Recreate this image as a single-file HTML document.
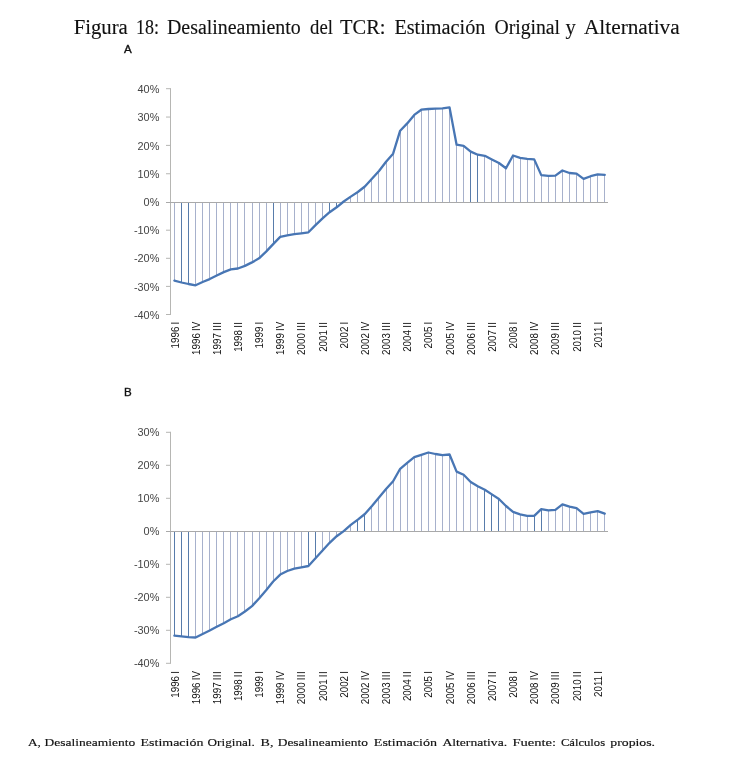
<!DOCTYPE html>
<html lang="es"><head><meta charset="utf-8"><title>Figura 18</title>
<style>
html,body{margin:0;padding:0;background:#fff;}
svg{display:block;will-change:transform}
.ax{font-family:"Liberation Sans","DejaVu Sans",sans-serif;font-size:10.6px;fill:#454545}
.cat{font-family:"Liberation Sans","DejaVu Sans",sans-serif;font-size:9.8px;fill:#111;word-spacing:-0.5px}
.lab{font-family:"Liberation Sans","DejaVu Sans",sans-serif;font-size:11.6px;fill:#111;stroke:#111;stroke-width:0.35px}
.title{font-family:"Liberation Serif","DejaVu Serif",serif;font-size:20px;fill:#111;stroke:#111;stroke-width:0.12px}
.cap{font-family:"Liberation Serif","DejaVu Serif",serif;font-size:11px;fill:#111;stroke:#111;stroke-width:0.15px}
</style></head><body>
<svg width="735" height="773" viewBox="0 0 735 773">
<rect width="735" height="773" fill="#fff"/>
<text class="title" y="34.0"><tspan x="73.7" textLength="54.1" lengthAdjust="spacingAndGlyphs">Figura</tspan> <tspan x="136.0" textLength="23.0" lengthAdjust="spacingAndGlyphs">18:</tspan> <tspan x="167" textLength="133.7" lengthAdjust="spacingAndGlyphs">Desalineamiento</tspan> <tspan x="310.1" textLength="22.8" lengthAdjust="spacingAndGlyphs">del</tspan> <tspan x="340.0" textLength="45.5" lengthAdjust="spacingAndGlyphs">TCR:</tspan> <tspan x="394.4" textLength="91.0" lengthAdjust="spacingAndGlyphs">Estimación</tspan> <tspan x="494.4" textLength="65.7" lengthAdjust="spacingAndGlyphs">Original</tspan> <tspan x="565.4" textLength="10.3" lengthAdjust="spacingAndGlyphs">y</tspan> <tspan x="584.0" textLength="95.7" lengthAdjust="spacingAndGlyphs">Alternativa</tspan></text>
<text class="lab" x="124" y="52.7">A</text>
<g id="chartA">
<line x1="174.5" y1="202.50" x2="174.5" y2="280.60" stroke="#a7b1cc" stroke-width="1"/>
<line x1="181.5" y1="202.50" x2="181.5" y2="282.50" stroke="#587cab" stroke-width="1"/>
<line x1="188.5" y1="202.50" x2="188.5" y2="284.00" stroke="#587cab" stroke-width="1"/>
<line x1="195.5" y1="202.50" x2="195.5" y2="285.30" stroke="#a7b1cc" stroke-width="1"/>
<line x1="202.5" y1="202.50" x2="202.5" y2="282.00" stroke="#a7b1cc" stroke-width="1"/>
<line x1="209.5" y1="202.50" x2="209.5" y2="279.10" stroke="#a7b1cc" stroke-width="1"/>
<line x1="216.5" y1="202.50" x2="216.5" y2="275.50" stroke="#a7b1cc" stroke-width="1"/>
<line x1="223.5" y1="202.50" x2="223.5" y2="272.10" stroke="#a7b1cc" stroke-width="1"/>
<line x1="230.5" y1="202.50" x2="230.5" y2="269.40" stroke="#a7b1cc" stroke-width="1"/>
<line x1="237.5" y1="202.50" x2="237.5" y2="268.50" stroke="#a7b1cc" stroke-width="1"/>
<line x1="244.5" y1="202.50" x2="244.5" y2="265.90" stroke="#a7b1cc" stroke-width="1"/>
<line x1="252.5" y1="202.50" x2="252.5" y2="262.40" stroke="#a7b1cc" stroke-width="1"/>
<line x1="259.5" y1="202.50" x2="259.5" y2="258.30" stroke="#a7b1cc" stroke-width="1"/>
<line x1="266.5" y1="202.50" x2="266.5" y2="251.60" stroke="#a7b1cc" stroke-width="1"/>
<line x1="273.5" y1="202.50" x2="273.5" y2="244.10" stroke="#587cab" stroke-width="1"/>
<line x1="280.5" y1="202.50" x2="280.5" y2="236.90" stroke="#a7b1cc" stroke-width="1"/>
<line x1="287.5" y1="202.50" x2="287.5" y2="235.30" stroke="#a7b1cc" stroke-width="1"/>
<line x1="294.5" y1="202.50" x2="294.5" y2="234.20" stroke="#a7b1cc" stroke-width="1"/>
<line x1="301.5" y1="202.50" x2="301.5" y2="233.30" stroke="#a7b1cc" stroke-width="1"/>
<line x1="308.5" y1="202.50" x2="308.5" y2="232.30" stroke="#a7b1cc" stroke-width="1"/>
<line x1="315.5" y1="202.50" x2="315.5" y2="225.10" stroke="#a7b1cc" stroke-width="1"/>
<line x1="322.5" y1="202.50" x2="322.5" y2="218.30" stroke="#a7b1cc" stroke-width="1"/>
<line x1="329.5" y1="202.50" x2="329.5" y2="212.20" stroke="#587cab" stroke-width="1"/>
<line x1="336.5" y1="202.50" x2="336.5" y2="207.30" stroke="#587cab" stroke-width="1"/>
<line x1="343.5" y1="202.50" x2="343.5" y2="201.50" stroke="#a7b1cc" stroke-width="1"/>
<line x1="350.5" y1="202.50" x2="350.5" y2="196.60" stroke="#a7b1cc" stroke-width="1"/>
<line x1="357.5" y1="202.50" x2="357.5" y2="192.00" stroke="#a7b1cc" stroke-width="1"/>
<line x1="364.5" y1="202.50" x2="364.5" y2="186.50" stroke="#a7b1cc" stroke-width="1"/>
<line x1="371.5" y1="202.50" x2="371.5" y2="178.80" stroke="#a7b1cc" stroke-width="1"/>
<line x1="378.5" y1="202.50" x2="378.5" y2="171.00" stroke="#a7b1cc" stroke-width="1"/>
<line x1="386.5" y1="202.50" x2="386.5" y2="161.70" stroke="#a7b1cc" stroke-width="1"/>
<line x1="393.5" y1="202.50" x2="393.5" y2="153.70" stroke="#a7b1cc" stroke-width="1"/>
<line x1="400.5" y1="202.50" x2="400.5" y2="130.70" stroke="#a7b1cc" stroke-width="1"/>
<line x1="407.5" y1="202.50" x2="407.5" y2="123.40" stroke="#a7b1cc" stroke-width="1"/>
<line x1="414.5" y1="202.50" x2="414.5" y2="114.90" stroke="#a7b1cc" stroke-width="1"/>
<line x1="421.5" y1="202.50" x2="421.5" y2="109.70" stroke="#a7b1cc" stroke-width="1"/>
<line x1="428.5" y1="202.50" x2="428.5" y2="109.00" stroke="#a7b1cc" stroke-width="1"/>
<line x1="435.5" y1="202.50" x2="435.5" y2="108.60" stroke="#a7b1cc" stroke-width="1"/>
<line x1="442.5" y1="202.50" x2="442.5" y2="108.40" stroke="#a7b1cc" stroke-width="1"/>
<line x1="449.5" y1="202.50" x2="449.5" y2="107.40" stroke="#a7b1cc" stroke-width="1"/>
<line x1="456.5" y1="202.50" x2="456.5" y2="144.70" stroke="#a7b1cc" stroke-width="1"/>
<line x1="463.5" y1="202.50" x2="463.5" y2="145.90" stroke="#a7b1cc" stroke-width="1"/>
<line x1="470.5" y1="202.50" x2="470.5" y2="151.60" stroke="#587cab" stroke-width="1"/>
<line x1="477.5" y1="202.50" x2="477.5" y2="154.70" stroke="#587cab" stroke-width="1"/>
<line x1="484.5" y1="202.50" x2="484.5" y2="155.80" stroke="#a7b1cc" stroke-width="1"/>
<line x1="491.5" y1="202.50" x2="491.5" y2="159.40" stroke="#a7b1cc" stroke-width="1"/>
<line x1="498.5" y1="202.50" x2="498.5" y2="163.00" stroke="#a7b1cc" stroke-width="1"/>
<line x1="505.5" y1="202.50" x2="505.5" y2="168.20" stroke="#a7b1cc" stroke-width="1"/>
<line x1="513.5" y1="202.50" x2="513.5" y2="155.50" stroke="#a7b1cc" stroke-width="1"/>
<line x1="520.5" y1="202.50" x2="520.5" y2="157.80" stroke="#a7b1cc" stroke-width="1"/>
<line x1="527.5" y1="202.50" x2="527.5" y2="158.90" stroke="#a7b1cc" stroke-width="1"/>
<line x1="534.5" y1="202.50" x2="534.5" y2="159.40" stroke="#a7b1cc" stroke-width="1"/>
<line x1="541.5" y1="202.50" x2="541.5" y2="175.10" stroke="#a7b1cc" stroke-width="1"/>
<line x1="548.5" y1="202.50" x2="548.5" y2="175.90" stroke="#a7b1cc" stroke-width="1"/>
<line x1="555.5" y1="202.50" x2="555.5" y2="175.60" stroke="#a7b1cc" stroke-width="1"/>
<line x1="562.5" y1="202.50" x2="562.5" y2="170.50" stroke="#a7b1cc" stroke-width="1"/>
<line x1="569.5" y1="202.50" x2="569.5" y2="173.00" stroke="#a7b1cc" stroke-width="1"/>
<line x1="576.5" y1="202.50" x2="576.5" y2="173.60" stroke="#a7b1cc" stroke-width="1"/>
<line x1="583.5" y1="202.50" x2="583.5" y2="178.90" stroke="#a7b1cc" stroke-width="1"/>
<line x1="590.5" y1="202.50" x2="590.5" y2="176.20" stroke="#a7b1cc" stroke-width="1"/>
<line x1="597.5" y1="202.50" x2="597.5" y2="174.40" stroke="#a7b1cc" stroke-width="1"/>
<line x1="604.5" y1="202.50" x2="604.5" y2="174.90" stroke="#a7b1cc" stroke-width="1"/>
<line x1="170.5" y1="88.20" x2="170.5" y2="315.00" stroke="#b6b6b3" stroke-width="1"/>
<line x1="166.00" y1="202.50" x2="608" y2="202.50" stroke="#a9a9a9" stroke-width="1"/>
<line x1="166.00" y1="88.70" x2="170.5" y2="88.70" stroke="#b6b6b3" stroke-width="1"/>
<text x="137.55" y="92.80" textLength="21.85" lengthAdjust="spacingAndGlyphs" class="ax">40%</text>
<line x1="166.00" y1="117.05" x2="170.5" y2="117.05" stroke="#b6b6b3" stroke-width="1"/>
<text x="137.55" y="121.15" textLength="21.85" lengthAdjust="spacingAndGlyphs" class="ax">30%</text>
<line x1="166.00" y1="145.40" x2="170.5" y2="145.40" stroke="#b6b6b3" stroke-width="1"/>
<text x="137.55" y="149.50" textLength="21.85" lengthAdjust="spacingAndGlyphs" class="ax">20%</text>
<line x1="166.00" y1="173.75" x2="170.5" y2="173.75" stroke="#b6b6b3" stroke-width="1"/>
<text x="137.55" y="177.85" textLength="21.85" lengthAdjust="spacingAndGlyphs" class="ax">10%</text>
<text x="143.62" y="206.20" textLength="15.78" lengthAdjust="spacingAndGlyphs" class="ax">0%</text>
<line x1="166.00" y1="230.20" x2="170.5" y2="230.20" stroke="#b6b6b3" stroke-width="1"/>
<text x="133.92" y="234.30" textLength="25.48" lengthAdjust="spacingAndGlyphs" class="ax">-10%</text>
<line x1="166.00" y1="258.30" x2="170.5" y2="258.30" stroke="#b6b6b3" stroke-width="1"/>
<text x="133.92" y="262.40" textLength="25.48" lengthAdjust="spacingAndGlyphs" class="ax">-20%</text>
<line x1="166.00" y1="286.40" x2="170.5" y2="286.40" stroke="#b6b6b3" stroke-width="1"/>
<text x="133.92" y="290.50" textLength="25.48" lengthAdjust="spacingAndGlyphs" class="ax">-30%</text>
<line x1="166.00" y1="314.50" x2="170.5" y2="314.50" stroke="#b6b6b3" stroke-width="1"/>
<text x="133.92" y="318.60" textLength="25.48" lengthAdjust="spacingAndGlyphs" class="ax">-40%</text>
<polyline points="174.40,280.60 181.46,282.50 188.51,284.00 195.56,285.30 202.62,282.00 209.68,279.10 216.73,275.50 223.78,272.10 230.84,269.40 237.90,268.50 244.95,265.90 252.00,262.40 259.06,258.30 266.12,251.60 273.17,244.10 280.23,236.90 287.28,235.30 294.34,234.20 301.39,233.30 308.44,232.30 315.50,225.10 322.56,218.30 329.61,212.20 336.66,207.30 343.72,201.50 350.77,196.60 357.83,192.00 364.88,186.50 371.94,178.80 379.00,171.00 386.05,161.70 393.11,153.70 400.16,130.70 407.22,123.40 414.27,114.90 421.32,109.70 428.38,109.00 435.43,108.60 442.49,108.40 449.54,107.40 456.60,144.70 463.65,145.90 470.71,151.60 477.76,154.70 484.82,155.80 491.88,159.40 498.93,163.00 505.99,168.20 513.04,155.50 520.10,157.80 527.15,158.90 534.21,159.40 541.26,175.10 548.31,175.90 555.37,175.60 562.42,170.50 569.48,173.00 576.53,173.60 583.59,178.90 590.64,176.20 597.70,174.40 604.75,174.90" fill="none" stroke="#4876b4" stroke-width="2.3" stroke-linejoin="round" stroke-linecap="round"/>
<text transform="translate(178.50,321.7) rotate(-90) scale(1,1.07)" text-anchor="end" class="cat">1996 I</text>
<text transform="translate(199.66,321.7) rotate(-90) scale(1,1.07)" text-anchor="end" class="cat">1996 IV</text>
<text transform="translate(220.83,321.7) rotate(-90) scale(1,1.07)" text-anchor="end" class="cat">1997 <tspan letter-spacing="0.35">III</tspan></text>
<text transform="translate(242.00,321.7) rotate(-90) scale(1,1.07)" text-anchor="end" class="cat">1998 <tspan letter-spacing="0.35">II</tspan></text>
<text transform="translate(263.16,321.7) rotate(-90) scale(1,1.07)" text-anchor="end" class="cat">1999 I</text>
<text transform="translate(284.33,321.7) rotate(-90) scale(1,1.07)" text-anchor="end" class="cat">1999 IV</text>
<text transform="translate(305.49,321.7) rotate(-90) scale(1,1.07)" text-anchor="end" class="cat">2000 <tspan letter-spacing="0.35">III</tspan></text>
<text transform="translate(326.66,321.7) rotate(-90) scale(1,1.07)" text-anchor="end" class="cat">2001 <tspan letter-spacing="0.35">II</tspan></text>
<text transform="translate(347.82,321.7) rotate(-90) scale(1,1.07)" text-anchor="end" class="cat">2002 I</text>
<text transform="translate(368.99,321.7) rotate(-90) scale(1,1.07)" text-anchor="end" class="cat">2002 IV</text>
<text transform="translate(390.15,321.7) rotate(-90) scale(1,1.07)" text-anchor="end" class="cat">2003 <tspan letter-spacing="0.35">III</tspan></text>
<text transform="translate(411.32,321.7) rotate(-90) scale(1,1.07)" text-anchor="end" class="cat">2004 <tspan letter-spacing="0.35">II</tspan></text>
<text transform="translate(432.48,321.7) rotate(-90) scale(1,1.07)" text-anchor="end" class="cat">2005 I</text>
<text transform="translate(453.64,321.7) rotate(-90) scale(1,1.07)" text-anchor="end" class="cat">2005 IV</text>
<text transform="translate(474.81,321.7) rotate(-90) scale(1,1.07)" text-anchor="end" class="cat">2006 <tspan letter-spacing="0.35">III</tspan></text>
<text transform="translate(495.98,321.7) rotate(-90) scale(1,1.07)" text-anchor="end" class="cat">2007 <tspan letter-spacing="0.35">II</tspan></text>
<text transform="translate(517.14,321.7) rotate(-90) scale(1,1.07)" text-anchor="end" class="cat">2008 I</text>
<text transform="translate(538.31,321.7) rotate(-90) scale(1,1.07)" text-anchor="end" class="cat">2008 IV</text>
<text transform="translate(559.47,321.7) rotate(-90) scale(1,1.07)" text-anchor="end" class="cat">2009 <tspan letter-spacing="0.35">III</tspan></text>
<text transform="translate(580.63,321.7) rotate(-90) scale(1,1.07)" text-anchor="end" class="cat">2010 <tspan letter-spacing="0.35">II</tspan></text>
<text transform="translate(601.80,321.7) rotate(-90) scale(1,1.07)" text-anchor="end" class="cat">2011 I</text>
</g>
<text class="lab" x="124" y="395.5">B</text>
<g id="chartB">
<line x1="174.5" y1="531.50" x2="174.5" y2="635.60" stroke="#587cab" stroke-width="1"/>
<line x1="181.5" y1="531.50" x2="181.5" y2="636.40" stroke="#587cab" stroke-width="1"/>
<line x1="188.5" y1="531.50" x2="188.5" y2="637.10" stroke="#587cab" stroke-width="1"/>
<line x1="195.5" y1="531.50" x2="195.5" y2="637.50" stroke="#a7b1cc" stroke-width="1"/>
<line x1="202.5" y1="531.50" x2="202.5" y2="634.00" stroke="#a7b1cc" stroke-width="1"/>
<line x1="209.5" y1="531.50" x2="209.5" y2="630.50" stroke="#a7b1cc" stroke-width="1"/>
<line x1="216.5" y1="531.50" x2="216.5" y2="626.70" stroke="#a7b1cc" stroke-width="1"/>
<line x1="223.5" y1="531.50" x2="223.5" y2="623.20" stroke="#a7b1cc" stroke-width="1"/>
<line x1="230.5" y1="531.50" x2="230.5" y2="619.30" stroke="#a7b1cc" stroke-width="1"/>
<line x1="237.5" y1="531.50" x2="237.5" y2="616.20" stroke="#a7b1cc" stroke-width="1"/>
<line x1="244.5" y1="531.50" x2="244.5" y2="611.50" stroke="#a7b1cc" stroke-width="1"/>
<line x1="252.5" y1="531.50" x2="252.5" y2="606.10" stroke="#a7b1cc" stroke-width="1"/>
<line x1="259.5" y1="531.50" x2="259.5" y2="598.50" stroke="#a7b1cc" stroke-width="1"/>
<line x1="266.5" y1="531.50" x2="266.5" y2="590.30" stroke="#a7b1cc" stroke-width="1"/>
<line x1="273.5" y1="531.50" x2="273.5" y2="581.50" stroke="#a7b1cc" stroke-width="1"/>
<line x1="280.5" y1="531.50" x2="280.5" y2="574.60" stroke="#a7b1cc" stroke-width="1"/>
<line x1="287.5" y1="531.50" x2="287.5" y2="571.00" stroke="#a7b1cc" stroke-width="1"/>
<line x1="294.5" y1="531.50" x2="294.5" y2="568.70" stroke="#a7b1cc" stroke-width="1"/>
<line x1="301.5" y1="531.50" x2="301.5" y2="567.30" stroke="#a7b1cc" stroke-width="1"/>
<line x1="308.5" y1="531.50" x2="308.5" y2="566.00" stroke="#587cab" stroke-width="1"/>
<line x1="315.5" y1="531.50" x2="315.5" y2="558.30" stroke="#587cab" stroke-width="1"/>
<line x1="322.5" y1="531.50" x2="322.5" y2="550.50" stroke="#a7b1cc" stroke-width="1"/>
<line x1="329.5" y1="531.50" x2="329.5" y2="542.80" stroke="#a7b1cc" stroke-width="1"/>
<line x1="336.5" y1="531.50" x2="336.5" y2="536.20" stroke="#a7b1cc" stroke-width="1"/>
<line x1="343.5" y1="531.50" x2="343.5" y2="531.10" stroke="#a7b1cc" stroke-width="1"/>
<line x1="350.5" y1="531.50" x2="350.5" y2="524.90" stroke="#a7b1cc" stroke-width="1"/>
<line x1="357.5" y1="531.50" x2="357.5" y2="519.60" stroke="#587cab" stroke-width="1"/>
<line x1="364.5" y1="531.50" x2="364.5" y2="514.00" stroke="#587cab" stroke-width="1"/>
<line x1="371.5" y1="531.50" x2="371.5" y2="506.00" stroke="#a7b1cc" stroke-width="1"/>
<line x1="378.5" y1="531.50" x2="378.5" y2="497.50" stroke="#a7b1cc" stroke-width="1"/>
<line x1="386.5" y1="531.50" x2="386.5" y2="489.00" stroke="#a7b1cc" stroke-width="1"/>
<line x1="393.5" y1="531.50" x2="393.5" y2="481.20" stroke="#a7b1cc" stroke-width="1"/>
<line x1="400.5" y1="531.50" x2="400.5" y2="468.80" stroke="#a7b1cc" stroke-width="1"/>
<line x1="407.5" y1="531.50" x2="407.5" y2="462.90" stroke="#a7b1cc" stroke-width="1"/>
<line x1="414.5" y1="531.50" x2="414.5" y2="457.20" stroke="#a7b1cc" stroke-width="1"/>
<line x1="421.5" y1="531.50" x2="421.5" y2="454.80" stroke="#a7b1cc" stroke-width="1"/>
<line x1="428.5" y1="531.50" x2="428.5" y2="452.50" stroke="#a7b1cc" stroke-width="1"/>
<line x1="435.5" y1="531.50" x2="435.5" y2="454.00" stroke="#a7b1cc" stroke-width="1"/>
<line x1="442.5" y1="531.50" x2="442.5" y2="455.10" stroke="#a7b1cc" stroke-width="1"/>
<line x1="449.5" y1="531.50" x2="449.5" y2="454.50" stroke="#a7b1cc" stroke-width="1"/>
<line x1="456.5" y1="531.50" x2="456.5" y2="471.60" stroke="#a7b1cc" stroke-width="1"/>
<line x1="463.5" y1="531.50" x2="463.5" y2="474.80" stroke="#a7b1cc" stroke-width="1"/>
<line x1="470.5" y1="531.50" x2="470.5" y2="482.00" stroke="#a7b1cc" stroke-width="1"/>
<line x1="477.5" y1="531.50" x2="477.5" y2="486.20" stroke="#a7b1cc" stroke-width="1"/>
<line x1="484.5" y1="531.50" x2="484.5" y2="489.70" stroke="#587cab" stroke-width="1"/>
<line x1="491.5" y1="531.50" x2="491.5" y2="494.40" stroke="#587cab" stroke-width="1"/>
<line x1="498.5" y1="531.50" x2="498.5" y2="499.00" stroke="#587cab" stroke-width="1"/>
<line x1="505.5" y1="531.50" x2="505.5" y2="506.00" stroke="#a7b1cc" stroke-width="1"/>
<line x1="513.5" y1="531.50" x2="513.5" y2="511.90" stroke="#a7b1cc" stroke-width="1"/>
<line x1="520.5" y1="531.50" x2="520.5" y2="514.30" stroke="#a7b1cc" stroke-width="1"/>
<line x1="527.5" y1="531.50" x2="527.5" y2="515.80" stroke="#a7b1cc" stroke-width="1"/>
<line x1="534.5" y1="531.50" x2="534.5" y2="515.90" stroke="#587cab" stroke-width="1"/>
<line x1="541.5" y1="531.50" x2="541.5" y2="509.10" stroke="#587cab" stroke-width="1"/>
<line x1="548.5" y1="531.50" x2="548.5" y2="510.40" stroke="#a7b1cc" stroke-width="1"/>
<line x1="555.5" y1="531.50" x2="555.5" y2="509.80" stroke="#a7b1cc" stroke-width="1"/>
<line x1="562.5" y1="531.50" x2="562.5" y2="504.40" stroke="#a7b1cc" stroke-width="1"/>
<line x1="569.5" y1="531.50" x2="569.5" y2="506.70" stroke="#a7b1cc" stroke-width="1"/>
<line x1="576.5" y1="531.50" x2="576.5" y2="508.20" stroke="#a7b1cc" stroke-width="1"/>
<line x1="583.5" y1="531.50" x2="583.5" y2="513.90" stroke="#a7b1cc" stroke-width="1"/>
<line x1="590.5" y1="531.50" x2="590.5" y2="512.40" stroke="#a7b1cc" stroke-width="1"/>
<line x1="597.5" y1="531.50" x2="597.5" y2="511.20" stroke="#a7b1cc" stroke-width="1"/>
<line x1="604.5" y1="531.50" x2="604.5" y2="513.70" stroke="#a7b1cc" stroke-width="1"/>
<line x1="170.5" y1="431.80" x2="170.5" y2="663.80" stroke="#b6b6b3" stroke-width="1"/>
<line x1="166.00" y1="531.50" x2="608" y2="531.50" stroke="#a9a9a9" stroke-width="1"/>
<line x1="166.00" y1="432.30" x2="170.5" y2="432.30" stroke="#b6b6b3" stroke-width="1"/>
<text x="137.55" y="435.70" textLength="21.85" lengthAdjust="spacingAndGlyphs" class="ax">30%</text>
<line x1="166.00" y1="465.30" x2="170.5" y2="465.30" stroke="#b6b6b3" stroke-width="1"/>
<text x="137.55" y="468.70" textLength="21.85" lengthAdjust="spacingAndGlyphs" class="ax">20%</text>
<line x1="166.00" y1="498.30" x2="170.5" y2="498.30" stroke="#b6b6b3" stroke-width="1"/>
<text x="137.55" y="501.70" textLength="21.85" lengthAdjust="spacingAndGlyphs" class="ax">10%</text>
<text x="143.62" y="534.70" textLength="15.78" lengthAdjust="spacingAndGlyphs" class="ax">0%</text>
<line x1="166.00" y1="564.30" x2="170.5" y2="564.30" stroke="#b6b6b3" stroke-width="1"/>
<text x="133.92" y="567.70" textLength="25.48" lengthAdjust="spacingAndGlyphs" class="ax">-10%</text>
<line x1="166.00" y1="597.30" x2="170.5" y2="597.30" stroke="#b6b6b3" stroke-width="1"/>
<text x="133.92" y="600.70" textLength="25.48" lengthAdjust="spacingAndGlyphs" class="ax">-20%</text>
<line x1="166.00" y1="630.30" x2="170.5" y2="630.30" stroke="#b6b6b3" stroke-width="1"/>
<text x="133.92" y="633.70" textLength="25.48" lengthAdjust="spacingAndGlyphs" class="ax">-30%</text>
<line x1="166.00" y1="663.30" x2="170.5" y2="663.30" stroke="#b6b6b3" stroke-width="1"/>
<text x="133.92" y="666.70" textLength="25.48" lengthAdjust="spacingAndGlyphs" class="ax">-40%</text>
<polyline points="174.40,635.60 181.46,636.40 188.51,637.10 195.56,637.50 202.62,634.00 209.68,630.50 216.73,626.70 223.78,623.20 230.84,619.30 237.90,616.20 244.95,611.50 252.00,606.10 259.06,598.50 266.12,590.30 273.17,581.50 280.23,574.60 287.28,571.00 294.34,568.70 301.39,567.30 308.44,566.00 315.50,558.30 322.56,550.50 329.61,542.80 336.66,536.20 343.72,531.10 350.77,524.90 357.83,519.60 364.88,514.00 371.94,506.00 379.00,497.50 386.05,489.00 393.11,481.20 400.16,468.80 407.22,462.90 414.27,457.20 421.32,454.80 428.38,452.50 435.43,454.00 442.49,455.10 449.54,454.50 456.60,471.60 463.65,474.80 470.71,482.00 477.76,486.20 484.82,489.70 491.88,494.40 498.93,499.00 505.99,506.00 513.04,511.90 520.10,514.30 527.15,515.80 534.21,515.90 541.26,509.10 548.31,510.40 555.37,509.80 562.42,504.40 569.48,506.70 576.53,508.20 583.59,513.90 590.64,512.40 597.70,511.20 604.75,513.70" fill="none" stroke="#4876b4" stroke-width="2.3" stroke-linejoin="round" stroke-linecap="round"/>
<text transform="translate(178.50,671.0) rotate(-90) scale(1,1.07)" text-anchor="end" class="cat">1996 I</text>
<text transform="translate(199.66,671.0) rotate(-90) scale(1,1.07)" text-anchor="end" class="cat">1996 IV</text>
<text transform="translate(220.83,671.0) rotate(-90) scale(1,1.07)" text-anchor="end" class="cat">1997 <tspan letter-spacing="0.35">III</tspan></text>
<text transform="translate(242.00,671.0) rotate(-90) scale(1,1.07)" text-anchor="end" class="cat">1998 <tspan letter-spacing="0.35">II</tspan></text>
<text transform="translate(263.16,671.0) rotate(-90) scale(1,1.07)" text-anchor="end" class="cat">1999 I</text>
<text transform="translate(284.33,671.0) rotate(-90) scale(1,1.07)" text-anchor="end" class="cat">1999 IV</text>
<text transform="translate(305.49,671.0) rotate(-90) scale(1,1.07)" text-anchor="end" class="cat">2000 <tspan letter-spacing="0.35">III</tspan></text>
<text transform="translate(326.66,671.0) rotate(-90) scale(1,1.07)" text-anchor="end" class="cat">2001 <tspan letter-spacing="0.35">II</tspan></text>
<text transform="translate(347.82,671.0) rotate(-90) scale(1,1.07)" text-anchor="end" class="cat">2002 I</text>
<text transform="translate(368.99,671.0) rotate(-90) scale(1,1.07)" text-anchor="end" class="cat">2002 IV</text>
<text transform="translate(390.15,671.0) rotate(-90) scale(1,1.07)" text-anchor="end" class="cat">2003 <tspan letter-spacing="0.35">III</tspan></text>
<text transform="translate(411.32,671.0) rotate(-90) scale(1,1.07)" text-anchor="end" class="cat">2004 <tspan letter-spacing="0.35">II</tspan></text>
<text transform="translate(432.48,671.0) rotate(-90) scale(1,1.07)" text-anchor="end" class="cat">2005 I</text>
<text transform="translate(453.64,671.0) rotate(-90) scale(1,1.07)" text-anchor="end" class="cat">2005 IV</text>
<text transform="translate(474.81,671.0) rotate(-90) scale(1,1.07)" text-anchor="end" class="cat">2006 <tspan letter-spacing="0.35">III</tspan></text>
<text transform="translate(495.98,671.0) rotate(-90) scale(1,1.07)" text-anchor="end" class="cat">2007 <tspan letter-spacing="0.35">II</tspan></text>
<text transform="translate(517.14,671.0) rotate(-90) scale(1,1.07)" text-anchor="end" class="cat">2008 I</text>
<text transform="translate(538.31,671.0) rotate(-90) scale(1,1.07)" text-anchor="end" class="cat">2008 IV</text>
<text transform="translate(559.47,671.0) rotate(-90) scale(1,1.07)" text-anchor="end" class="cat">2009 <tspan letter-spacing="0.35">III</tspan></text>
<text transform="translate(580.63,671.0) rotate(-90) scale(1,1.07)" text-anchor="end" class="cat">2010 <tspan letter-spacing="0.35">II</tspan></text>
<text transform="translate(601.80,671.0) rotate(-90) scale(1,1.07)" text-anchor="end" class="cat">2011 I</text>
</g>
<text class="cap" y="745.6"><tspan x="27.9" textLength="12.9" lengthAdjust="spacingAndGlyphs">A,</tspan> <tspan x="44.6" textLength="90.7" lengthAdjust="spacingAndGlyphs">Desalineamiento</tspan> <tspan x="140.6" textLength="62.8" lengthAdjust="spacingAndGlyphs">Estimación</tspan> <tspan x="207.6" textLength="47.2" lengthAdjust="spacingAndGlyphs">Original.</tspan> <tspan x="260.5" textLength="12.9" lengthAdjust="spacingAndGlyphs">B,</tspan> <tspan x="277.7" textLength="90.3" lengthAdjust="spacingAndGlyphs">Desalineamiento</tspan> <tspan x="373.8" textLength="63.3" lengthAdjust="spacingAndGlyphs">Estimación</tspan> <tspan x="442.4" textLength="64.7" lengthAdjust="spacingAndGlyphs">Alternativa.</tspan> <tspan x="512.4" textLength="43.7" lengthAdjust="spacingAndGlyphs">Fuente:</tspan> <tspan x="560.9" textLength="44.2" lengthAdjust="spacingAndGlyphs">Cálculos</tspan> <tspan x="610.3" textLength="44.7" lengthAdjust="spacingAndGlyphs">propios.</tspan></text>
</svg>
</body></html>
